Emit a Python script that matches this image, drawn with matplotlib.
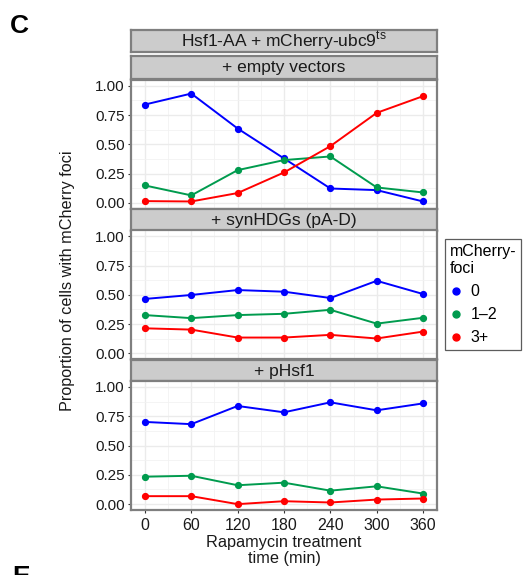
import matplotlib
matplotlib.use("Agg")
import matplotlib.pyplot as plt
from matplotlib.lines import Line2D
import numpy as np

plt.rcParams['font.family'] = ['Liberation Sans', 'DejaVu Sans']
plt.rcParams['mathtext.fontset'] = 'custom'
plt.rcParams['mathtext.rm'] = 'Liberation Sans'

# ---- data ----
times = [0, 60, 120, 180, 240, 300, 360]
foci_levels = ["0", "1\u20132", "3+"]
colors = ["#0000FF", "#009B4E", "#FF0000"]
panel_titles = ["+ empty vectors", "+ synHDGs (pA-D)", "+ pHsf1"]

empty_0 = [0.84, 0.934, 0.635, 0.379, 0.122, 0.108, 0.011]
empty_12 = [0.148, 0.063, 0.279, 0.365, 0.396, 0.131, 0.088]
empty_3 = [0.014, 0.011, 0.083, 0.259, 0.484, 0.769, 0.912]

syn_0 = [0.465, 0.499, 0.541, 0.527, 0.473, 0.620, 0.507]
syn_12 = [0.327, 0.301, 0.327, 0.338, 0.372, 0.254, 0.304]
syn_3 = [0.214, 0.203, 0.135, 0.135, 0.158, 0.127, 0.186]

phsf_0 = [0.701, 0.682, 0.837, 0.783, 0.868, 0.800, 0.859]
phsf_12 = [0.234, 0.242, 0.161, 0.183, 0.115, 0.152, 0.090]
phsf_3 = [0.068, 0.068, 0.0, 0.025, 0.014, 0.039, 0.048]

panels_data = [[empty_0, empty_12, empty_3],
               [syn_0, syn_12, syn_3],
               [phsf_0, phsf_12, phsf_3]]

y_ticks = [0, 0.25, 0.5, 0.75, 1.0]
y_ticklabels = ["0.00", "0.25", "0.50", "0.75", "1.00"]

# ---- layout ----
W, H = 525, 575
fig = plt.figure(figsize=(W / 100, H / 100), dpi=100)


def ax_px(x0, y0, x1, y1):
    return fig.add_axes([x0 / W, 1 - y1 / H, (x1 - x0) / W, (y1 - y0) / H])


border = "#7F7F7F"
strip_fill = "#CCCCCC"
txt = "#1A1A1A"


def strip(y0, y1, text):
    a = ax_px(131, y0, 437, y1)
    a.set_facecolor(strip_fill)
    a.set_xticks([])
    a.set_yticks([])
    for s in a.spines.values():
        s.set_color(border)
        s.set_linewidth(1.6)
    a.text(0.5, 0.47, text, ha='center', va='center', fontsize=12.5,
           transform=a.transAxes, color=txt)
    return a


strip(30, 52, r"Hsf1-AA + mCherry-ubc9$^{\mathregular{ts}}$")

panel_boxes = [(80, 208.6), (230.5, 359.2), (381, 510)]
strip_boxes = [(56, 78.5), (209, 230.5), (360, 381)]

for i, ((py0, py1), (sy0, sy1)) in enumerate(zip(panel_boxes, strip_boxes)):
    strip(sy0, sy1, panel_titles[i])
    ax = ax_px(131, py0, 437, py1)
    ax.set_xlim(-18, 378)
    ax.set_ylim(-0.05, 1.05)
    ax.set_yticks(y_ticks)
    ax.set_yticklabels(y_ticklabels)
    ax.set_yticks([0.125, 0.375, 0.625, 0.875], minor=True)
    ax.set_xticks(times)
    ax.set_xticks([30, 90, 150, 210, 270, 330], minor=True)
    ax.grid(which='major', color="#EBEBEB", linewidth=1.0)
    ax.grid(which='minor', color="#F2F2F2", linewidth=0.6)
    ax.set_axisbelow(True)
    for s in ax.spines.values():
        s.set_color(border)
        s.set_linewidth(1.6)
    ax.tick_params(which='major', length=2.5, width=0.8, color="#333333",
                   labelsize=11, pad=2, labelcolor=txt)
    ax.tick_params(axis='x', which='major', labelsize=11.5, pad=3)
    ax.tick_params(which='minor', length=0)
    if i < 2:
        ax.tick_params(axis='x', which='major', labelbottom=False, length=0)
    for series, c in zip(panels_data[i], colors):
        ax.plot(times, series, color=c, linewidth=1.4, marker='o',
                markersize=4.2, zorder=3)

# axis labels
fig.text(68 / W, 1 - 281 / H, "Proportion of cells with mCherry foci",
         rotation=90, ha='center', va='center', fontsize=11.7, color=txt)
fig.text(284 / W, 1 - 546.5 / H, "Rapamycin treatment",
         ha='center', va='baseline', fontsize=11.7, color=txt)
fig.text(284 / W, 1 - 563 / H, "time (min)",
         ha='center', va='baseline', fontsize=11.7, color=txt)

# legend
handles = [Line2D([], [], linestyle='none', marker='o', markersize=5,
                  color=c) for c in colors]
leg = fig.legend(handles, foci_levels, title="mCherry-\nfoci",
                 loc='upper left', bbox_to_anchor=(445 / W, 1 - 239 / H),
                 fontsize=11.5, title_fontsize=11.5, frameon=True,
                 fancybox=False, edgecolor="#333333", handlelength=0.8,
                 handletextpad=0.5, borderpad=0.3, labelspacing=0.5,
                 alignment='left', borderaxespad=0)
leg.get_frame().set_linewidth(0.9)

# panel letters
fig.text(10 / W, 1 - 33 / H, "C", fontsize=19, fontweight='bold',
         ha='left', va='baseline')
fig.text(12 / W, 1 - 584 / H, "E", fontsize=19, fontweight='bold',
         ha='left', va='baseline')

fig.savefig("out.png", dpi=100)
